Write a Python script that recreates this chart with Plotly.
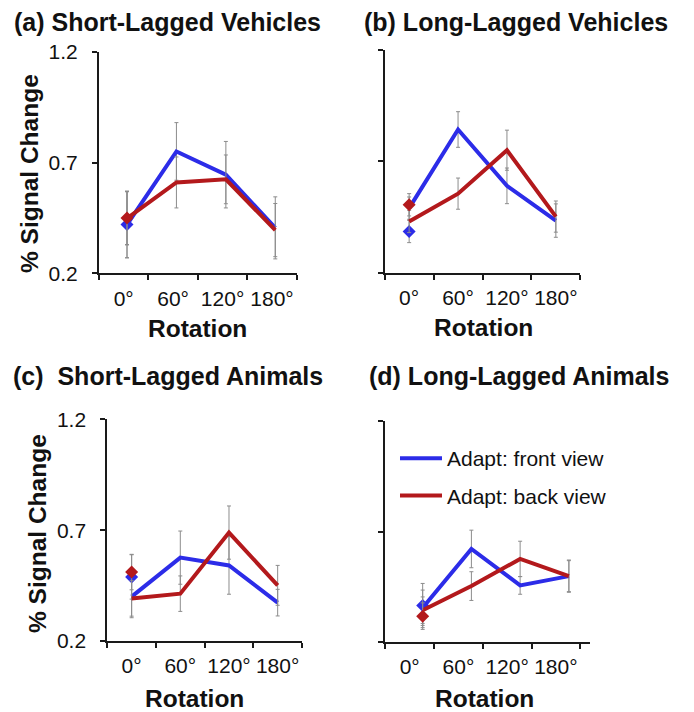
import plotly.graph_objects as go

# ---------------- data ----------------
rotation = [0, 60, 120, 180]
rotation_labels = ["0°", "60°", "120°", "180°"]
y_ticks = [0.2, 0.7, 1.2]
y_tick_labels = ["0.2", "0.7", "1.2"]

panel_titles = ["(a) Short-Lagged Vehicles", "(b) Long-Lagged Vehicles",
                "(c)  Short-Lagged Animals", "(d) Long-Lagged Animals"]
series_names = ["Adapt: front view", "Adapt: back view"]

front_a = [0.42, 0.75, 0.645, 0.405]
front_a_err = [0.15, 0.13, 0.15, 0.14]
back_a = [0.448, 0.61, 0.624, 0.395]
back_a_err = [0.12, 0.115, 0.11, 0.12]

front_b = [0.49, 0.843, 0.59, 0.434]
front_b_err = [0.05, 0.08, 0.08, 0.075]
back_b = [0.43, 0.555, 0.75, 0.452]
back_b_err = [0.05, 0.07, 0.09, 0.07]

front_c = [0.40, 0.576, 0.541, 0.373]
front_c_err = [0.095, 0.12, 0.13, 0.06]
back_c = [0.392, 0.4135, 0.689, 0.451]
back_c_err = [0.08, 0.08, 0.12, 0.09]

front_d = [0.355, 0.621, 0.456, 0.498]
front_d_err = [0.08, 0.085, 0.04, 0.073]
back_d = [0.344, 0.453, 0.576, 0.498]
back_d_err = [0.06, 0.065, 0.08, 0.07]

# 0° same-view diamonds (a, b, c, d)
same_front = [0.42, 0.385, 0.489, 0.365]
same_front_err = [0.15, 0.05, 0.10, 0.10]
same_back = [0.45, 0.505, 0.511, 0.317]
same_back_err = [0.12, 0.05, 0.08, 0.06]

# ---------------- style ----------------
BLUE = "#2c2ce8"
RED = "#b3191c"
GRAY = "#8c8c8c"
AX = "#1a1a1a"
FONT = "Liberation Sans, Arial, Helvetica, sans-serif"

W, H = 694, 712
# pixel boxes (x0, x1, ytop, ybottom)
boxes = [(99, 296.7, 51.7, 273.3), (384.7, 580.3, 50.0, 272.7),
         (107.3, 302.0, 419.3, 641.0), (385.3, 590.0, 421.0, 642.0)]
x_ranges = [[-30, 210], [-30, 210], [-30, 210], [-30, 222]]
x_shift = [4, 0, 0, 16]

fronts = [front_a, front_b, front_c, front_d]
fronts_err = [front_a_err, front_b_err, front_c_err, front_d_err]
backs = [back_a, back_b, back_c, back_d]
backs_err = [back_a_err, back_b_err, back_c_err, back_d_err]

fig = go.Figure()
layout = dict(width=W, height=H,
              margin=dict(l=0, r=0, t=0, b=0, pad=0, autoexpand=False),
              plot_bgcolor="white", paper_bgcolor="white",
              font=dict(family=FONT, color="#111", size=21),
              showlegend=True)

annotations = []
for i in range(4):
    xa = "x" if i == 0 else f"x{i+1}"
    ya = "y" if i == 0 else f"y{i+1}"
    xs = [r + x_shift[i] for r in rotation]
    x0, x1, yt, yb = boxes[i]
    show_ylabels = i in (0, 2)
    layout["xaxis" if i == 0 else f"xaxis{i+1}"] = dict(
        domain=[x0 / W, x1 / W], range=x_ranges[i], anchor=ya, automargin=False,
        showline=True, linecolor=AX, linewidth=2, showgrid=False, zeroline=False,
        tickmode="array", tickvals=rotation, ticktext=rotation_labels, ticks="",
        ticklabelstandoff=5,
        minor=dict(tickmode="array", tickvals=[-30, 30, 90, 150, 210],
                   ticks="outside", ticklen=5, tickwidth=1.5, tickcolor=AX),
        tickfont=dict(size=21, color="#111"), fixedrange=True)
    layout["yaxis" if i == 0 else f"yaxis{i+1}"] = dict(
        domain=[1 - yb / H, 1 - yt / H], range=[0.2, 1.2], anchor=xa, automargin=False,
        showline=True, linecolor=AX, linewidth=2, showgrid=False, zeroline=False,
        tickmode="array", tickvals=y_ticks, ticktext=y_tick_labels,
        showticklabels=show_ylabels, ticks="outside", ticklen=5, tickwidth=1.5,
        tickcolor=AX, ticklabelstandoff=10,
        tickfont=dict(size=21, color="#111"), fixedrange=True)

    for vals, errs, color, name, sv, se in (
            (fronts[i], fronts_err[i], BLUE, series_names[0], same_front[i], same_front_err[i]),
            (backs[i], backs_err[i], RED, series_names[1], same_back[i], same_back_err[i])):
        fig.add_trace(go.Scatter(
            x=xs, y=vals, mode="lines", xaxis=xa, yaxis=ya,
            line=dict(color=color, width=4),
            error_y=dict(type="data", array=errs, color=GRAY, thickness=1, width=2),
            name=name, legendgroup=name, showlegend=(i == 3)))
        fig.add_trace(go.Scatter(
            x=[xs[0]], y=[sv], mode="markers", xaxis=xa, yaxis=ya,
            marker=dict(symbol="diamond", size=10, color=color),
            error_y=dict(type="data", array=[se], color=GRAY, thickness=1, width=2),
            showlegend=False, hoverinfo="skip"))

# panel titles
title_pos = [(12, 22), (362, 22), (11, 376), (367, 376)]
for t, (px, py) in zip(panel_titles, title_pos):
    annotations.append(dict(text=f"<b>{t}</b>", xref="paper", yref="paper",
                            x=px / W, y=1 - py / H, xanchor="left", yanchor="middle",
                            showarrow=False, font=dict(size=25, family=FONT, color="#111")))
# axis titles
for cx, cy in [(197, 328), (483, 327), (194, 698), (484, 698)]:
    annotations.append(dict(text="<b>Rotation</b>", xref="paper", yref="paper",
                            x=cx / W, y=1 - cy / H, xanchor="center", yanchor="middle",
                            showarrow=False, font=dict(size=24.5, family=FONT, color="#111")))
for cx, cy in [(29, 174), (37, 534)]:
    annotations.append(dict(text="<b>% Signal Change</b>", xref="paper", yref="paper",
                            x=cx / W, y=1 - cy / H, xanchor="center", yanchor="middle",
                            textangle=-90, showarrow=False,
                            font=dict(size=24.5, family=FONT, color="#111")))

layout["annotations"] = annotations
layout["legend"] = dict(x=395 / W, y=1 - 438 / H, xanchor="left", yanchor="top",
                        bgcolor="rgba(0,0,0,0)", itemwidth=42,
                        traceorder="grouped", tracegroupgap=7,
                        font=dict(size=21, family=FONT, color="#111"))
fig.update_layout(**layout)
fig.write_html("out.html")
